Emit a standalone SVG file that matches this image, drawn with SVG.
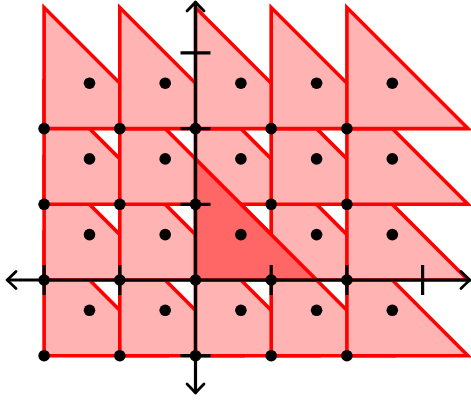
<svg xmlns="http://www.w3.org/2000/svg" xmlns:xlink="http://www.w3.org/1999/xlink" width="471" height="401" viewBox="0 0 471 401">
<style>
.tri{fill:#ffb3b3;stroke:#ff0000;stroke-width:3.6;stroke-linejoin:miter}
.dark{fill:#ff6666;stroke:#ff0000;stroke-width:3.6}
.ax{fill:none;stroke:#000;stroke-width:3.2}
.tk{stroke:#000;stroke-width:3.2}
.ah{fill:none;stroke:#000;stroke-width:2.8;stroke-linecap:round;stroke-linejoin:round}
.dot{fill:#000}
</style>
<defs>
<path id="t" d="M0,-121.1 L0,0 L121.1,0 Z"/>
<marker id="arr" markerUnits="userSpaceOnUse" viewBox="-12 -12 24 24" markerWidth="24" markerHeight="24" refX="-1.5" refY="0" orient="auto-start-reverse" overflow="visible">
<path class="ah" d="M-9,-8.5 Q-3,-2.5 0,0 Q-3,2.5 -9,8.5"/>
</marker>
</defs>
<g id="triangles">
<g id="row4">
<use id="t-r4-c1" xlink:href="#t" class="tri" transform="translate(44.1,355.7)"/>
<use id="t-r4-c2" xlink:href="#t" class="tri" transform="translate(119.8,355.7)"/>
<use id="t-r4-c3" xlink:href="#t" class="tri" transform="translate(195.5,355.7)"/>
<use id="t-r4-c4" xlink:href="#t" class="tri" transform="translate(271.2,355.7)"/>
<use id="t-r4-c5" xlink:href="#t" class="tri" transform="translate(346.9,355.7)"/>
</g>
<g id="row3">
<use id="t-r3-c1" xlink:href="#t" class="tri" transform="translate(44.1,280)"/>
<use id="t-r3-c2" xlink:href="#t" class="tri" transform="translate(119.8,280)"/>
<use id="t-r3-c3" xlink:href="#t" class="tri" transform="translate(195.5,280)"/>
<use id="t-r3-c4" xlink:href="#t" class="tri" transform="translate(271.2,280)"/>
<use id="t-r3-c5" xlink:href="#t" class="tri" transform="translate(346.9,280)"/>
</g>
<g id="row2">
<use id="t-r2-c1" xlink:href="#t" class="tri" transform="translate(44.1,204.3)"/>
<use id="t-r2-c2" xlink:href="#t" class="tri" transform="translate(119.8,204.3)"/>
<use id="t-r2-c3" xlink:href="#t" class="tri" transform="translate(195.5,204.3)"/>
<use id="t-r2-c4" xlink:href="#t" class="tri" transform="translate(271.2,204.3)"/>
<use id="t-r2-c5" xlink:href="#t" class="tri" transform="translate(346.9,204.3)"/>
</g>
<g id="row1">
<use id="t-r1-c1" xlink:href="#t" class="tri" transform="translate(44.1,128.6)"/>
<use id="t-r1-c2" xlink:href="#t" class="tri" transform="translate(119.8,128.6)"/>
<use id="t-r1-c3" xlink:href="#t" class="tri" transform="translate(195.5,128.6)"/>
<use id="t-r1-c4" xlink:href="#t" class="tri" transform="translate(271.2,128.6)"/>
<use id="t-r1-c5" xlink:href="#t" class="tri" transform="translate(346.9,128.6)"/>
</g>
<g id="highlight">
<use xlink:href="#t" class="dark" transform="translate(195.5,280)"/>
</g>
</g>
<g id="axes">
<path class="ax" d="M8.5,280 H468.5" marker-start="url(#arr)" marker-end="url(#arr)"/>
<path class="ax" d="M195.5,391.5 V3.5" marker-start="url(#arr)" marker-end="url(#arr)"/>
<path class="tk" d="M44.1,265 V295 M119.8,265 V295 M271.2,265 V295 M346.9,265 V295 M422.6,265 V295 M180.5,52.9 H210.5 M180.5,128.6 H210.5 M180.5,204.3 H210.5 M180.5,355.7 H210.5"/>
</g>
<g id="lattice-dots" class="dot">
<circle cx="44.1" cy="128.6" r="5.8"/><circle cx="119.8" cy="128.6" r="5.8"/><circle cx="195.5" cy="128.6" r="5.8"/><circle cx="271.2" cy="128.6" r="5.8"/><circle cx="346.9" cy="128.6" r="5.8"/>
<circle cx="44.1" cy="204.3" r="5.8"/><circle cx="119.8" cy="204.3" r="5.8"/><circle cx="195.5" cy="204.3" r="5.8"/><circle cx="271.2" cy="204.3" r="5.8"/><circle cx="346.9" cy="204.3" r="5.8"/>
<circle cx="44.1" cy="280" r="5.8"/><circle cx="119.8" cy="280" r="5.8"/><circle cx="195.5" cy="280" r="5.8"/><circle cx="271.2" cy="280" r="5.8"/><circle cx="346.9" cy="280" r="5.8"/>
<circle cx="44.1" cy="355.7" r="5.8"/><circle cx="119.8" cy="355.7" r="5.8"/><circle cx="195.5" cy="355.7" r="5.8"/><circle cx="271.2" cy="355.7" r="5.8"/><circle cx="346.9" cy="355.7" r="5.8"/>
</g>
<g id="inner-dots" class="dot">
<circle cx="89.5" cy="83.2" r="5.8"/><circle cx="165.2" cy="83.2" r="5.8"/><circle cx="240.9" cy="83.2" r="5.8"/><circle cx="316.6" cy="83.2" r="5.8"/><circle cx="392.3" cy="83.2" r="5.8"/>
<circle cx="89.5" cy="158.9" r="5.8"/><circle cx="165.2" cy="158.9" r="5.8"/><circle cx="240.9" cy="158.9" r="5.8"/><circle cx="316.6" cy="158.9" r="5.8"/><circle cx="392.3" cy="158.9" r="5.8"/>
<circle cx="89.5" cy="234.6" r="5.8"/><circle cx="165.2" cy="234.6" r="5.8"/><circle cx="240.9" cy="234.6" r="5.8"/><circle cx="316.6" cy="234.6" r="5.8"/><circle cx="392.3" cy="234.6" r="5.8"/>
<circle cx="89.5" cy="310.3" r="5.8"/><circle cx="165.2" cy="310.3" r="5.8"/><circle cx="240.9" cy="310.3" r="5.8"/><circle cx="316.6" cy="310.3" r="5.8"/><circle cx="392.3" cy="310.3" r="5.8"/>
</g>
</svg>
